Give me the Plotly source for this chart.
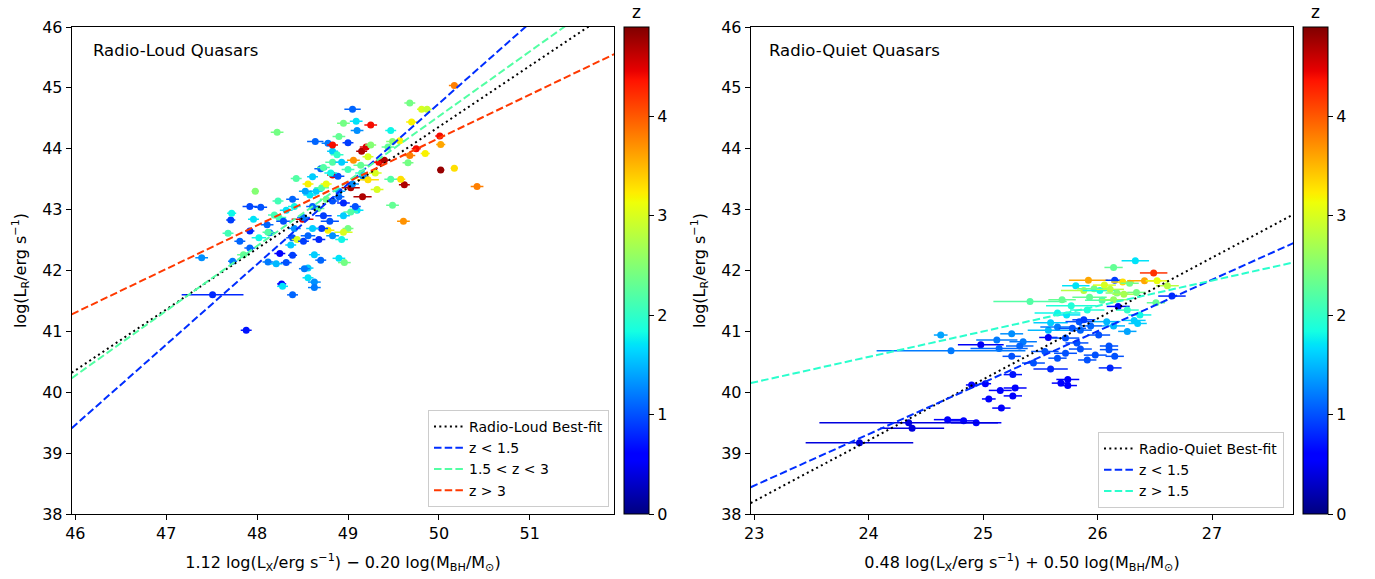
import plotly.graph_objects as go

# ---------------- Radio-loud quasars (left panel) ----------------
rl_x = [47.39, 47.51, 47.88, 47.71, 47.72, 47.68, 47.73, 47.81, 47.92, 48.04,
        47.98, 48.22, 47.92, 47.92, 47.85, 47.96, 48.02, 48.11, 48.14, 48.24,
        48.23, 48.39, 48.43, 48.25, 48.27, 48.28, 48.39, 48.12, 48.21, 48.32,
        48.39, 48.39, 48.44, 48.50, 48.51, 48.56, 48.61, 48.64, 48.70, 48.56,
        48.65, 48.71, 48.76, 48.78, 48.83, 48.83, 48.90, 48.83, 48.83, 48.89,
        48.95, 49.05, 49.09, 49.10, 49.00, 49.25, 49.15, 49.20, 49.25, 49.22,
        49.06, 49.14, 49.34, 49.40, 49.30, 49.17, 49.22, 49.44, 49.47, 49.49,
        49.57, 49.68, 49.70, 49.81, 49.87, 49.75, 49.66, 49.68, 49.85, 50.01,
        50.02, 50.17, 50.02, 50.17, 50.42, 49.61, 49.49, 49.62, 49.58, 49.47,
        49.32, 49.16, 49.03, 49.10, 49.03, 48.95, 49.00, 48.95, 48.93, 48.90,
        48.96, 48.70, 48.63, 48.56, 48.52, 48.56, 48.63, 48.63, 48.80, 48.83,
        48.78, 48.73, 48.83, 48.90, 48.95, 49.08, 48.58, 48.71, 48.32, 48.19,
        48.12, 48.29, 48.41, 48.67, 48.76, 48.61, 48.68, 48.81, 48.51, 48.41,
        48.37, 48.61, 48.93, 48.88, 49.00, 49.05, 49.15, 48.90, 48.73, 48.53]
rl_y = [42.21, 41.60, 41.02, 42.83, 42.94, 42.61, 42.15, 42.48, 43.05, 43.04,
        43.30, 44.27, 42.65, 42.37, 42.26, 42.84, 42.54, 42.75, 42.62, 42.87,
        43.14, 43.17, 43.51, 42.28, 41.78, 41.74, 41.60, 42.14, 42.11, 42.13,
        42.25, 42.54, 42.51, 42.84, 42.48, 42.57, 43.54, 44.12, 43.67, 43.42,
        43.30, 43.36, 43.42, 44.09, 43.96, 44.06, 44.20, 43.78, 43.57, 43.55,
        44.42, 44.65, 44.45, 44.30, 44.10, 44.39, 43.96, 44.03, 44.06, 43.87,
        43.81, 43.73, 43.78, 43.81, 43.60, 43.54, 43.49, 44.03, 44.30, 44.12,
        44.13, 44.75, 44.44, 44.65, 44.65, 44.00, 43.77, 43.89, 43.92, 44.21,
        44.07, 45.04, 43.65, 43.68, 43.38, 42.81, 43.07, 43.41, 43.50, 43.50,
        43.33, 43.21, 43.36, 42.99, 42.96, 42.90, 42.69, 42.63, 42.51, 42.20,
        42.13, 42.17, 42.26, 42.04, 42.03, 41.88, 41.81, 41.72, 42.81, 42.57,
        42.66, 42.90, 43.14, 43.21, 43.11, 43.05, 43.24, 42.69, 42.99, 42.91,
        42.63, 42.81, 43.05, 43.02, 43.17, 42.69, 42.51, 43.60, 42.87, 42.69,
        42.42, 43.05, 43.78, 43.90, 43.66, 43.42, 43.60, 43.30, 43.69, 43.30]
rl_xerr = [0.07, 0.34, 0.06, 0.05, 0.05, 0.06, 0.05, 0.06, 0.08, 0.07,
           0.04, 0.07, 0.05, 0.06, 0.07, 0.06, 0.08, 0.07, 0.06, 0.08,
           0.06, 0.07, 0.06, 0.06, 0.05, 0.06, 0.06, 0.06, 0.07, 0.06,
           0.05, 0.07, 0.06, 0.12, 0.06, 0.08, 0.06, 0.09, 0.07, 0.06,
           0.07, 0.08, 0.06, 0.07, 0.06, 0.06, 0.07, 0.08, 0.06, 0.07,
           0.07, 0.09, 0.07, 0.07, 0.06, 0.07, 0.06, 0.07, 0.06, 0.06,
           0.07, 0.08, 0.07, 0.06, 0.07, 0.06, 0.12, 0.07, 0.06, 0.07,
           0.06, 0.06, 0.06, 0.05, 0.05, 0.05, 0.06, 0.06, 0.05, 0.05,
           0.05, 0.06, 0.04, 0.04, 0.07, 0.07, 0.07, 0.06, 0.05, 0.07,
           0.07, 0.10, 0.10, 0.07, 0.08, 0.07, 0.06, 0.10, 0.07, 0.07,
           0.07, 0.06, 0.06, 0.06, 0.06, 0.06, 0.07, 0.07, 0.10, 0.07,
           0.07, 0.09, 0.07, 0.06, 0.07, 0.06, 0.07, 0.07, 0.07, 0.07,
           0.06, 0.08, 0.07, 0.07, 0.07, 0.07, 0.07, 0.07, 0.07, 0.07,
           0.06, 0.07, 0.07, 0.07, 0.07, 0.07, 0.07, 0.07, 0.07, 0.07]
rl_z = [1.3, 0.8, 0.7, 0.9, 1.8, 2.1, 1.2, 1.1, 0.95, 1.0,
        2.5, 2.4, 0.8, 1.1, 2.3, 1.7, 1.8, 1.1, 1.2, 2.1,
        2.1, 1.1, 2.2, 0.6, 0.6, 1.7, 1.1, 1.2, 1.5, 1.0,
        0.9, 1.0, 3.0, 4.5, 0.9, 1.1, 1.6, 1.1, 1.1, 3.2,
        1.6, 2.2, 3.1, 1.2, 1.6, 4.4, 2.3, 2.2, 4.5, 1.0,
        2.4, 1.1, 1.7, 1.3, 0.9, 4.4, 4.7, 4.5, 2.5, 3.0,
        3.7, 2.3, 4.4, 4.7, 3.0, 1.2, 3.3, 2.3, 1.8, 2.5,
        3.2, 2.4, 3.2, 3.0, 2.9, 4.4, 2.4, 3.8, 3.2, 4.4,
        3.6, 3.8, 4.8, 3.3, 3.8, 3.7, 2.3, 4.7, 3.3, 2.2,
        3.0, 4.7, 4.7, 1.7, 2.2, 1.6, 2.4, 3.0, 1.8, 1.7,
        2.4, 1.1, 1.6, 1.6, 1.2, 1.7, 1.3, 1.2, 1.0, 1.3,
        3.2, 0.9, 1.0, 1.1, 0.8, 1.0, 1.7, 0.9, 1.7, 2.1,
        2.2, 1.0, 1.8, 2.3, 2.4, 1.6, 0.8, 1.8, 1.2, 1.3,
        1.6, 1.1, 1.6, 2.0, 2.1, 1.3, 2.0, 1.4, 2.2, 1.4]

# ---------------- Radio-quiet quasars (right panel) ----------------
rq_x = [26.33, 26.14, 26.49, 25.92, 26.15, 26.22, 26.28, 26.41, 26.52, 26.61,
        25.81, 25.88, 25.97, 26.02, 26.06, 26.11, 25.93, 26.17, 26.23, 26.34,
        25.41, 25.69, 26.04, 26.14, 26.51, 26.65, 26.18, 25.77, 25.65, 25.73,
        25.91, 26.26, 26.37, 25.59, 25.84, 25.88, 26.08, 26.32, 26.35, 25.57,
        25.65, 25.78, 25.85, 25.94, 26.14, 26.26, 24.63, 25.25, 25.12, 25.35,
        24.98, 25.14, 24.72, 25.32, 25.57, 25.72, 25.82, 26.01, 26.10, 26.10,
        25.54, 25.72, 25.85, 25.65, 25.25, 25.44, 25.91, 25.98, 26.15, 25.59,
        26.11, 25.26, 25.74, 25.68, 25.74, 24.90, 25.02, 25.15, 25.28, 25.26,
        25.05, 25.16, 24.69, 24.83, 24.94, 24.35, 24.38, 23.92]
rq_y = [42.16, 42.05, 41.96, 41.84, 41.84, 41.81, 41.79, 41.83, 41.83, 41.75,
        41.75, 41.67, 41.70, 41.67, 41.76, 41.69, 41.56, 41.63, 41.61, 41.64,
        41.49, 41.52, 41.51, 41.52, 41.47, 41.58, 41.41, 41.42, 41.30, 41.27,
        41.35, 41.35, 41.27, 41.14, 41.16, 41.19, 41.16, 41.18, 41.13, 41.02,
        41.07, 41.05, 41.02, 41.09, 41.09, 41.00, 40.94, 40.96, 40.86, 40.83,
        40.78, 40.72, 40.68, 40.76, 40.90, 40.89, 40.81, 40.94, 40.76, 40.70,
        40.67, 40.64, 40.71, 40.56, 40.59, 40.48, 40.53, 40.61, 40.59, 40.38,
        40.40, 40.29, 40.21, 40.15, 40.11, 40.12, 40.14, 40.03, 40.07, 39.94,
        39.89, 39.74, 39.55, 39.53, 39.50, 39.50, 39.41, 39.17]
rq_xerr = [0.12, 0.08, 0.12, 0.17, 0.08, 0.10, 0.08, 0.15, 0.10, 0.10,
           0.12, 0.20, 0.15, 0.15, 0.10, 0.12, 0.15, 0.10, 0.10, 0.08,
           0.32, 0.12, 0.15, 0.12, 0.08, 0.12, 0.10, 0.22, 0.20, 0.12,
           0.15, 0.10, 0.10, 0.15, 0.12, 0.10, 0.12, 0.10, 0.08, 0.18,
           0.15, 0.12, 0.10, 0.10, 0.10, 0.08, 0.06, 0.10, 0.18, 0.12,
           0.20, 0.25, 0.65, 0.12, 0.08, 0.12, 0.10, 0.10, 0.08, 0.08,
           0.12, 0.10, 0.10, 0.08, 0.08, 0.10, 0.08, 0.10, 0.08, 0.15,
           0.10, 0.08, 0.10, 0.08, 0.08, 0.05, 0.05, 0.10, 0.10, 0.08,
           0.06, 0.08, 0.12, 0.12, 0.22, 0.78, 0.28, 0.47]
rq_z = [1.7, 2.3, 4.2, 3.6, 0.9, 3.3, 2.4, 3.6, 3.1, 2.8,
        1.7, 2.8, 2.4, 1.8, 3.0, 2.8, 2.3, 2.5, 2.7, 2.4,
        2.2, 2.3, 2.2, 2.6, 2.3, 0.8, 0.5, 1.9, 1.8, 1.7,
        1.9, 2.0, 1.8, 1.6, 1.0, 0.9, 1.5, 1.6, 1.6, 1.5,
        1.2, 1.0, 1.1, 1.1, 1.5, 1.4, 1.4, 1.3, 1.2, 1.2,
        0.5, 1.1, 1.2, 1.1, 0.5, 1.0, 1.0, 1.0, 1.0, 1.0,
        1.0, 1.0, 1.0, 1.0, 1.0, 1.0, 1.0, 1.0, 1.0, 0.8,
        0.8, 0.7, 0.6, 0.6, 0.6, 0.6, 0.6, 0.6, 0.6, 0.6,
        0.6, 0.6, 0.6, 0.6, 0.6, 0.4, 0.4, 0.4]

# ---------------- Fitted relations (slope, intercept) ----------------
rl_fit_names = ["Radio-Loud Best-fit", "z &lt; 1.5", "1.5 &lt; z &lt; 3", "z &gt; 3"]
rl_fit_slope = [1.0, 1.32, 1.065, 0.716]
rl_fit_icpt = [-5.64, -21.257, -8.717, 8.373]
rq_fit_names = ["Radio-Quiet Best-fit", "z &lt; 1.5", "z &gt; 1.5"]
rq_fit_slope = [1.0, 0.846, 0.418]
rq_fit_icpt = [15.21, 19.007, 30.549]

z_max = 4.9
rl_xticks = [46, 47, 48, 49, 50, 51]
rq_xticks = [23, 24, 25, 26, 27]
y_ticks = [38, 39, 40, 41, 42, 43, 44, 45, 46]
cb_ticks = [0, 1, 2, 3, 4]

# matplotlib "jet"
JET = [(0.0, (0, 0, 128)), (0.11, (0, 0, 255)), (0.125, (0, 0, 255)),
       (0.34, (0, 219, 255)), (0.35, (0, 230, 247)), (0.375, (21, 255, 226)),
       (0.64, (239, 255, 8)), (0.65, (247, 245, 0)), (0.66, (255, 236, 0)),
       (0.89, (255, 19, 0)), (0.91, (232, 0, 0)), (1.0, (128, 0, 0))]
jet_scale = [[p, "rgb(%d,%d,%d)" % c] for p, c in JET]


def jet_rgb(v):
    v = min(max(v, 0.0), 1.0)
    for (p0, c0), (p1, c1) in zip(JET[:-1], JET[1:]):
        if p0 <= v <= p1:
            t = 0 if p1 == p0 else (v - p0) / (p1 - p0)
            c = [round(a + (b - a) * t) for a, b in zip(c0, c1)]
            return "rgb(%d,%d,%d)" % tuple(c)
    return "rgb(128,0,0)"


FONT = "DejaVu Sans"
fig = go.Figure()


def add_points(xs, ys, xes, zs, xa, ya, ca):
    for x, y, xe, z in zip(xs, ys, xes, zs):
        fig.add_trace(go.Scatter(
            x=[x], y=[y], mode="markers", xaxis=xa, yaxis=ya,
            marker=dict(size=7, color=[z], coloraxis=ca, line=dict(width=0)),
            error_x=dict(type="data", array=[xe], color=jet_rgb(z / z_max),
                         thickness=1.5, width=0),
            showlegend=False, hoverinfo="skip"))


add_points(rl_x, rl_y, rl_xerr, rl_z, "x", "y", "coloraxis")
add_points(rq_x, rq_y, rq_xerr, rq_z, "x2", "y2", "coloraxis2")

rl_range = [45.96, 51.93]
rq_range = [22.97, 27.71]
rl_colors = ["black", jet_rgb(0.17), jet_rgb(0.45), jet_rgb(0.85)]
rq_colors = ["black", jet_rgb(0.17), jet_rgb(0.40)]
DOT = "2px,3.3px"
DASH = "7.5px,3.2px"

for name, m, c, col in zip(rl_fit_names, rl_fit_slope, rl_fit_icpt, rl_colors):
    fig.add_trace(go.Scatter(
        x=rl_range, y=[m * v + c for v in rl_range], mode="lines",
        line=dict(color=col, width=2, dash=DOT if col == "black" else DASH),
        name=name, xaxis="x", yaxis="y", legend="legend", hoverinfo="skip"))

for name, m, c, col in zip(rq_fit_names, rq_fit_slope, rq_fit_icpt, rq_colors):
    fig.add_trace(go.Scatter(
        x=rq_range, y=[m * v + c for v in rq_range], mode="lines",
        line=dict(color=col, width=2, dash=DOT if col == "black" else DASH),
        name=name, xaxis="x2", yaxis="y2", legend="legend2", hoverinfo="skip"))

W, H = 1375, 579
ydom = [1 - 514 / H, 1 - 27 / H]
axis_common = dict(showline=True, linecolor="black", linewidth=1, mirror=True,
                   ticks="outside", ticklen=5, tickwidth=1, tickcolor="black",
                   showgrid=False, zeroline=False, automargin=False,
                   tickfont=dict(family=FONT, size=16, color="black"))

ylab = "log(L<sub>R</sub>/erg s<sup>−1</sup>)"


def cbar(x_left):
    return dict(x=x_left / W, xanchor="left", xpad=0, ypad=0,
                y=ydom[0], yanchor="bottom", len=ydom[1] - ydom[0],
                lenmode="fraction", thickness=25, thicknessmode="pixels",
                outlinecolor="black", outlinewidth=1,
                ticks="outside", ticklen=5, tickcolor="black",
                tickvals=cb_ticks, tickfont=dict(size=16))


fig.update_layout(
    width=W, height=H, template="none",
    paper_bgcolor="white", plot_bgcolor="white",
    margin=dict(l=0, r=0, t=0, b=0),
    font=dict(family=FONT, size=16, color="black"),
    xaxis=dict(domain=[71.7 / W, 614.3 / W], range=rl_range, anchor="y",
               tickvals=rl_xticks,
               title=dict(text="1.12 log(L<sub>X</sub>/erg s<sup>−1</sup>) − 0.20 log(M<sub>BH</sub>/M<sub>⊙</sub>)",
                          font=dict(size=16), standoff=14),
               **axis_common),
    yaxis=dict(domain=ydom, range=[38, 46], anchor="x", tickvals=y_ticks,
               title=dict(text=ylab, font=dict(size=16), standoff=11),
               **axis_common),
    xaxis2=dict(domain=[750.7 / W, 1293.3 / W], range=rq_range, anchor="y2",
                tickvals=rq_xticks,
                title=dict(text="0.48 log(L<sub>X</sub>/erg s<sup>−1</sup>) + 0.50 log(M<sub>BH</sub>/M<sub>⊙</sub>)",
                           font=dict(size=16), standoff=14),
                **axis_common),
    yaxis2=dict(domain=ydom, range=[38, 46], anchor="x2", tickvals=y_ticks,
                title=dict(text=ylab, font=dict(size=16), standoff=11),
                **axis_common),
    coloraxis=dict(colorscale=jet_scale, cmin=0, cmax=z_max, colorbar=cbar(624)),
    coloraxis2=dict(colorscale=jet_scale, cmin=0, cmax=z_max, colorbar=cbar(1302.7)),
    legend=dict(x=609 / W, y=1 - 507 / H, xanchor="right", yanchor="bottom",
                bgcolor="rgba(255,255,255,0.8)", bordercolor="#cccccc", borderwidth=1,
                font=dict(size=14), itemwidth=30),
    legend2=dict(x=1284 / W, y=1 - 508 / H, xanchor="right", yanchor="bottom",
                 bgcolor="rgba(255,255,255,0.8)", bordercolor="#cccccc", borderwidth=1,
                 font=dict(size=14), itemwidth=30),
    annotations=[
        dict(text="Radio-Loud Quasars", xref="x domain", yref="y domain",
             x=(91 - 71.7) / 542.6, y=(514 - 51) / 487, xanchor="left", yanchor="middle",
             showarrow=False, font=dict(size=16.5)),
        dict(text="Radio-Quiet Quasars", xref="x2 domain", yref="y2 domain",
             x=(767 - 750.7) / 542.6, y=(514 - 51) / 487, xanchor="left", yanchor="middle",
             showarrow=False, font=dict(size=16.5)),
        dict(text="z", xref="paper", yref="paper", x=636.5 / W, y=1 - 12 / H,
             xanchor="center", yanchor="middle", showarrow=False, font=dict(size=17)),
        dict(text="z", xref="paper", yref="paper", x=1315.5 / W, y=1 - 12 / H,
             xanchor="center", yanchor="middle", showarrow=False, font=dict(size=17)),
    ],
)

fig.write_html("out.html", config={"displayModeBar": False},
               post_script="document.body.style.margin='0';document.body.style.padding='0';")
